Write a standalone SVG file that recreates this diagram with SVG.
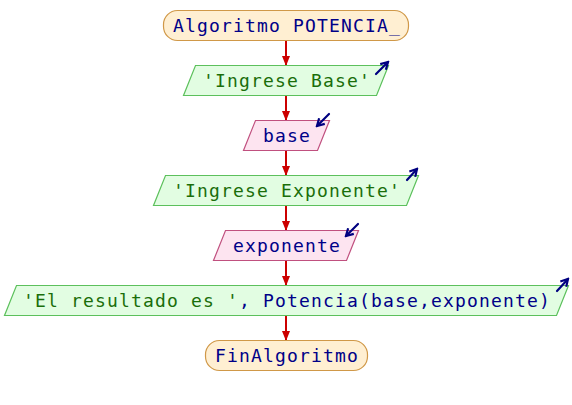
<svg xmlns="http://www.w3.org/2000/svg" width="572" height="405" viewBox="0 0 572 405">
<style>
text{font-family:"DejaVu Sans Mono","Liberation Mono",monospace;font-size:18px;letter-spacing:1.16px;text-anchor:middle}
.term{fill:#ffefd2;stroke:#d09848;stroke-width:1.2}
.out{fill:#e2fde2;stroke:#5cc05c;stroke-width:1.2}
.in{fill:#fde4f0;stroke:#c0507f;stroke-width:1.2}
.kw{fill:#000088}
.str{fill:#1a6e0a}
.conn{stroke:#cc0000;stroke-width:2;fill:none}
.io{stroke:#000080;stroke-width:2.2;fill:none;stroke-linecap:round}
</style>
<defs>
<marker id="ah" markerWidth="10" markerHeight="8" refX="9" refY="4" orient="auto" markerUnits="userSpaceOnUse">
<path d="M0,0 L10,4 L0,8 z" fill="#cc0000"/>
</marker>
<marker id="io" markerWidth="10" markerHeight="10" refX="8" refY="5" orient="auto" markerUnits="userSpaceOnUse">
<path d="M1,1 L8,5 L1,9" fill="none" stroke="#000080" stroke-width="2.2"/>
</marker>
</defs>
<g id="connectors">
<line class="conn" x1="286" y1="40" x2="286" y2="65" marker-end="url(#ah)"/>
<line class="conn" x1="286" y1="95" x2="286" y2="120" marker-end="url(#ah)"/>
<line class="conn" x1="286" y1="150" x2="286" y2="175" marker-end="url(#ah)"/>
<line class="conn" x1="286" y1="205" x2="286" y2="230" marker-end="url(#ah)"/>
<line class="conn" x1="286" y1="260" x2="286" y2="285" marker-end="url(#ah)"/>
<line class="conn" x1="286" y1="315" x2="286" y2="340" marker-end="url(#ah)"/>
</g>
<g id="start">
<rect class="term" x="163.5" y="10.5" width="245" height="30" rx="14"/>
<text class="kw" x="287" y="32">Algoritmo POTENCIA_</text>
</g>
<g id="out1">
<polygon class="out" points="195.5,65.5 388.5,65.5 376.5,95.5 183.5,95.5"/>
<text class="str" x="287" y="87">'Ingrese Base'</text>
<line class="io" x1="376" y1="74" x2="388" y2="62" marker-end="url(#io)"/>
</g>
<g id="in1">
<polygon class="in" points="255.5,120.5 329.5,120.5 317.5,150.5 243.5,150.5"/>
<text class="kw" x="287" y="142">base</text>
<line class="io" x1="329" y1="114" x2="317" y2="126" marker-end="url(#io)"/>
</g>
<g id="out2">
<polygon class="out" points="165.5,175.5 418.5,175.5 406.5,205.5 153.5,205.5"/>
<text class="str" x="287" y="197">'Ingrese Exponente'</text>
<line class="io" x1="407" y1="180" x2="417" y2="169" marker-end="url(#io)"/>
</g>
<g id="in2">
<polygon class="in" points="225.5,230.5 358.5,230.5 346.5,260.5 213.5,260.5"/>
<text class="kw" x="287" y="252">exponente</text>
<line class="io" x1="358" y1="224" x2="346" y2="236" marker-end="url(#io)"/>
</g>
<g id="out3">
<polygon class="out" points="16.5,285.5 568.5,285.5 556.5,315.5 4.5,315.5"/>
<text x="287" y="307"><tspan class="str">'El resultado es '</tspan><tspan class="kw">, Potencia(base,exponente)</tspan></text>
<line class="io" x1="557" y1="291" x2="568" y2="279" marker-end="url(#io)"/>
</g>
<g id="end">
<rect class="term" x="205.5" y="340.5" width="162" height="30" rx="14"/>
<text class="kw" x="287" y="362">FinAlgoritmo</text>
</g>
</svg>
